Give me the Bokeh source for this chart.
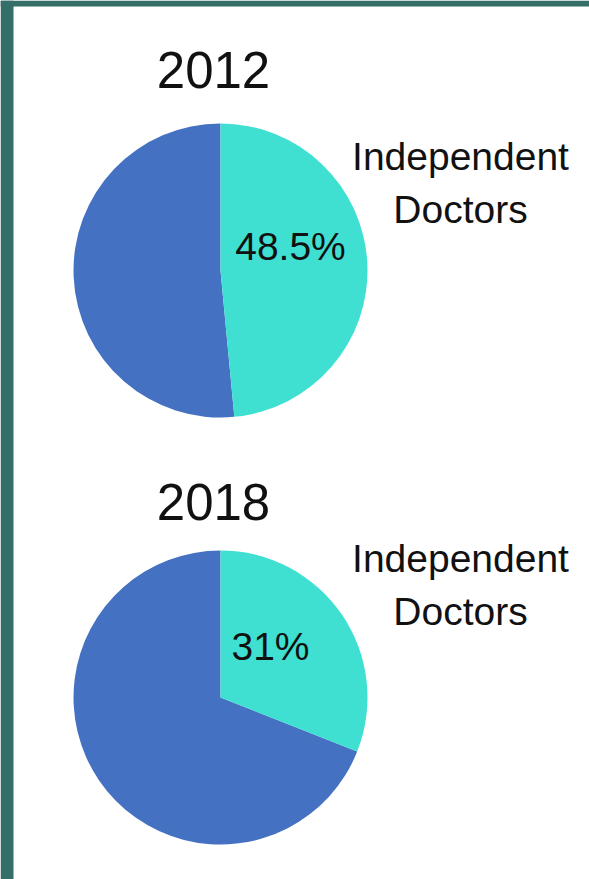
import math
from bokeh.plotting import figure
from bokeh.models import Range1d, ColumnDataSource
from bokeh.core.properties import value
from bokeh.embed import file_html
from bokeh.resources import INLINE

# ---- data ----
years = ["2012", "2018"]
independent_share = [48.5, 31.0]          # % independent doctors
share_labels = ["48.5%", "31%"]
slice_label = ["Independent", "Doctors"]

# ---- layout constants (page pixels, y measured downward) ----
W, H = 589, 879
def py(y):  # page y (down) -> data y (up)
    return H - y

cx = [220, 220]
cy = [270, 697]
R = 147
TITLE_FS, PCT_FS, LAB_FS = 51, 39, 39
# baselines as seen in the target, corrected for the svg text placement
title_base = [88 - 19, 520 - 19]
lab1_base = [170 - 14, 572 - 14]
lab2_base = [223 - 14, 625 - 14]
pct_x = [290, 270]
pct_base = [262 - 16, 662 - 16]

BLUE = "#4471C2"
TEAL = "#3FE0D2"
FRAME = "#346E69"
FONT = value("Liberation Sans")

p = figure(width=W, height=H, x_range=Range1d(0, W), y_range=Range1d(0, H),
           output_backend="svg", toolbar_location=None, min_border=0)
p.axis.visible = False
p.grid.visible = False
p.outline_line_color = None
p.background_fill_color = "white"
p.border_fill_color = "white"

# frame strips (left and top)
p.quad(left=[0, 0], right=[13, W], bottom=[py(H), py(6)], top=[py(0), py(0)], fill_color=FRAME, line_color=None)

# wedges
top = math.pi / 2
t_start, t_end, b_start, b_end = [], [], [], []
for s in independent_share:
    a = top - s / 100 * 2 * math.pi
    t_start.append(a); t_end.append(top)
    b_start.append(top); b_end.append(a + 2 * math.pi)
src = ColumnDataSource(dict(x=cx, y=[py(v) for v in cy], ts=t_start, te=t_end, bs=b_start, be=b_end))
p.wedge(x="x", y="y", radius=R, start_angle="bs", end_angle="be", fill_color=BLUE, line_color=None, source=src)
p.wedge(x="x", y="y", radius=R, start_angle="ts", end_angle="te", fill_color=TEAL, line_color=None, source=src)

# titles
p.text(x=[213, 213], y=[py(v) for v in title_base], text=years, text_font=FONT, text_font_size=f"{TITLE_FS}px",
       text_align="center", text_baseline="alphabetic", text_color="#111111")
# percentages
p.text(x=pct_x, y=[py(v) for v in pct_base], text=share_labels, text_font=FONT, text_font_size=f"{PCT_FS}px",
       text_align="center", text_baseline="alphabetic", text_color="#111111")
# slice labels
for line, bases in zip(slice_label, [lab1_base, lab2_base]):
    p.text(x=[460, 460], y=[py(v) for v in bases], text=[line, line], text_font=FONT, text_font_size=f"{LAB_FS}px",
           text_align="center", text_baseline="alphabetic", text_color="#111111")

open("out.html", "w").write(file_html(p, INLINE))
